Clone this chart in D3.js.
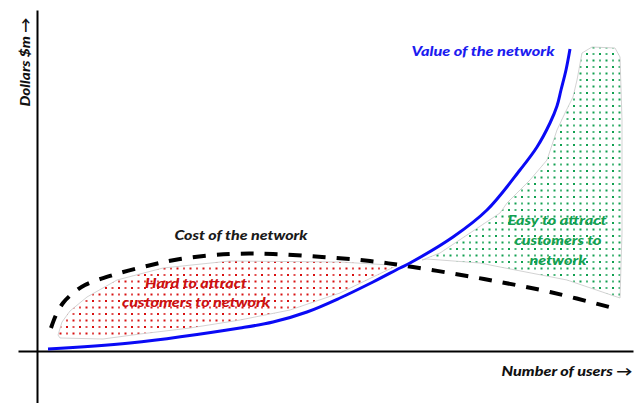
<!DOCTYPE html>
<html>
<head>
<meta charset="utf-8">
<script src="https://cdn.jsdelivr.net/npm/d3@7"></script>
<style>
  html, body { margin: 0; padding: 0; background: #ffffff; }
  svg { display: block; }
  text { font-family: Lato, "Open Sans", "DejaVu Sans", sans-serif; font-weight: 900; font-style: italic; }
</style>
</head>
<body>
<div id="chart"></div>
<script>
// ---- data (arbitrary units: users 0..600, dollars 0..340) ----
const valueUsers   = [11, 93, 203, 236, 270, 303, 336, 363, 373, 416, 450, 483, 500, 513, 520, 524, 529, 533];
const valueDollars = [2, 8, 23, 29, 39, 53, 69, 83, 88, 114, 141, 181, 204, 228, 245, 261, 281, 302];

const costUsers   = [14, 19, 26, 35, 48, 76, 110, 143, 193, 236, 285, 333, 376, 430, 463, 513, 576];
const costDollars = [23, 36, 48, 57, 66, 76, 85, 92, 97, 97, 94, 90, 84, 75, 69, 59, 43];

// "Hard to attract" region outline
const hardUsers   = [21, 25, 33, 50, 80, 126, 193, 303, 353, 359, 336, 303, 253, 203, 153, 103, 66, 23];
const hardDollars = [16, 29, 40, 54, 71, 83, 90, 89, 86, 85, 74, 58, 41, 31, 23, 17, 12, 13];

// "Easy to attract" region outline
const easyUsers   = [385, 403, 436, 463, 470, 493, 510, 520, 528, 536, 540, 545, 555, 578, 583, 585, 585, 583, 530, 463, 443, 390];
const easyDollars = [91, 98, 120, 138, 148, 171, 191, 221, 238, 254, 271, 298, 304, 303, 294, 231, 118, 53, 71, 84, 88, 92];

const labels = {
  value: "Value of the network",
  cost: "Cost of the network",
  hard: ["Hard to attract", "customers to network"],
  easy: ["Easy to attract", "customers to", "network"],
  xTitle: "Number of users \u2192",
  yTitle: "Dollars $m \u2192"
};

// ---- chart ----
const W = 643, H = 403;
const svg = d3.select("#chart").append("svg").attr("width", W).attr("height", H);

const x = d3.scaleLinear().domain([0, 600]).range([37, 637]);
const y = d3.scaleLinear().domain([0, 340]).range([351, 11]);

const defs = svg.append("defs");
function dotPattern(id, color) {
  const p = defs.append("pattern").attr("id", id)
    .attr("patternUnits", "userSpaceOnUse").attr("width", 13).attr("height", 13);
  [[1, 1, 1], [7.5, 1, 0.75], [1, 7.5, 0.75], [7.5, 7.5, 1]].forEach(([cx, cy, o]) => {
    p.append("rect").attr("x", cx).attr("y", cy).attr("width", 2).attr("height", 2)
      .attr("fill", color).attr("opacity", o);
  });
}
dotPattern("dotsRed", "#d81010");
dotPattern("dotsGreen", "#10a050");

const zip = (a, b) => a.map((v, i) => [v, b[i]]);
const areaLine = d3.line().x(d => x(d[0])).y(d => y(d[1])).curve(d3.curveLinearClosed);

svg.append("path").datum(zip(hardUsers, hardDollars))
  .attr("d", areaLine).attr("fill", "url(#dotsRed)")
  .attr("stroke", "#c8c8c8").attr("stroke-width", 0.8);
svg.append("path").datum(zip(easyUsers, easyDollars))
  .attr("d", areaLine).attr("fill", "url(#dotsGreen)")
  .attr("stroke", "#c8c8c8").attr("stroke-width", 0.8);

// axes (no ticks)
const xAxisG = svg.append("g").attr("transform", `translate(0,${y(0)})`)
  .call(d3.axisBottom(d3.scaleLinear().domain([0, 1]).range([x(-19), x(596)])).tickValues([]).tickSizeOuter(0));
xAxisG.select(".domain").attr("stroke", "#000").attr("stroke-width", 2);
const yAxisG = svg.append("g").attr("transform", `translate(${x(0)},0)`)
  .call(d3.axisLeft(d3.scaleLinear().domain([0, 1]).range([y(-52), y(341)])).tickValues([]).tickSizeOuter(0));
yAxisG.select(".domain").attr("stroke", "#000").attr("stroke-width", 2);

const smooth = d3.line().x(d => x(d[0])).y(d => y(d[1])).curve(d3.curveCatmullRom.alpha(0.5));

svg.append("path").datum(zip(costUsers, costDollars))
  .attr("d", smooth).attr("fill", "none").attr("stroke", "#000")
  .attr("stroke-width", 4).attr("stroke-dasharray", "13,11");

svg.append("path").datum(zip(valueUsers, valueDollars))
  .attr("d", smooth).attr("fill", "none").attr("stroke", "#0a0af5")
  .attr("stroke-width", 3);

// labels
function label(txt, cx, cy, color, len, size) {
  svg.append("text").attr("x", cx).attr("y", cy).attr("text-anchor", "middle")
    .attr("dominant-baseline", "central").attr("fill", color)
    .attr("font-size", size || 13)
    .attr("textLength", len).attr("lengthAdjust", "spacingAndGlyphs")
    .text(txt);
}
label(labels.value, 483, 51, "#1c1cf0", 143);
label(labels.cost, 241, 235, "#1a1a1a", 133);
label(labels.hard[0], 196, 283, "#cc1111", 102);
label(labels.hard[1], 196, 302, "#cc1111", 148);
label(labels.easy[0], 557, 220, "#14a050", 99);
label(labels.easy[1], 558, 240, "#14a050", 87);
label(labels.easy[2], 558, 260, "#14a050", 57);
label(labels.xTitle, 567, 371, "#111", 131);

svg.append("text").attr("transform", "translate(25,62) rotate(-90)")
  .attr("text-anchor", "middle").attr("dominant-baseline", "central")
  .attr("fill", "#111").attr("font-size", 13)
  .attr("textLength", 89).attr("lengthAdjust", "spacingAndGlyphs")
  .text(labels.yTitle);
</script>
</body>
</html>
